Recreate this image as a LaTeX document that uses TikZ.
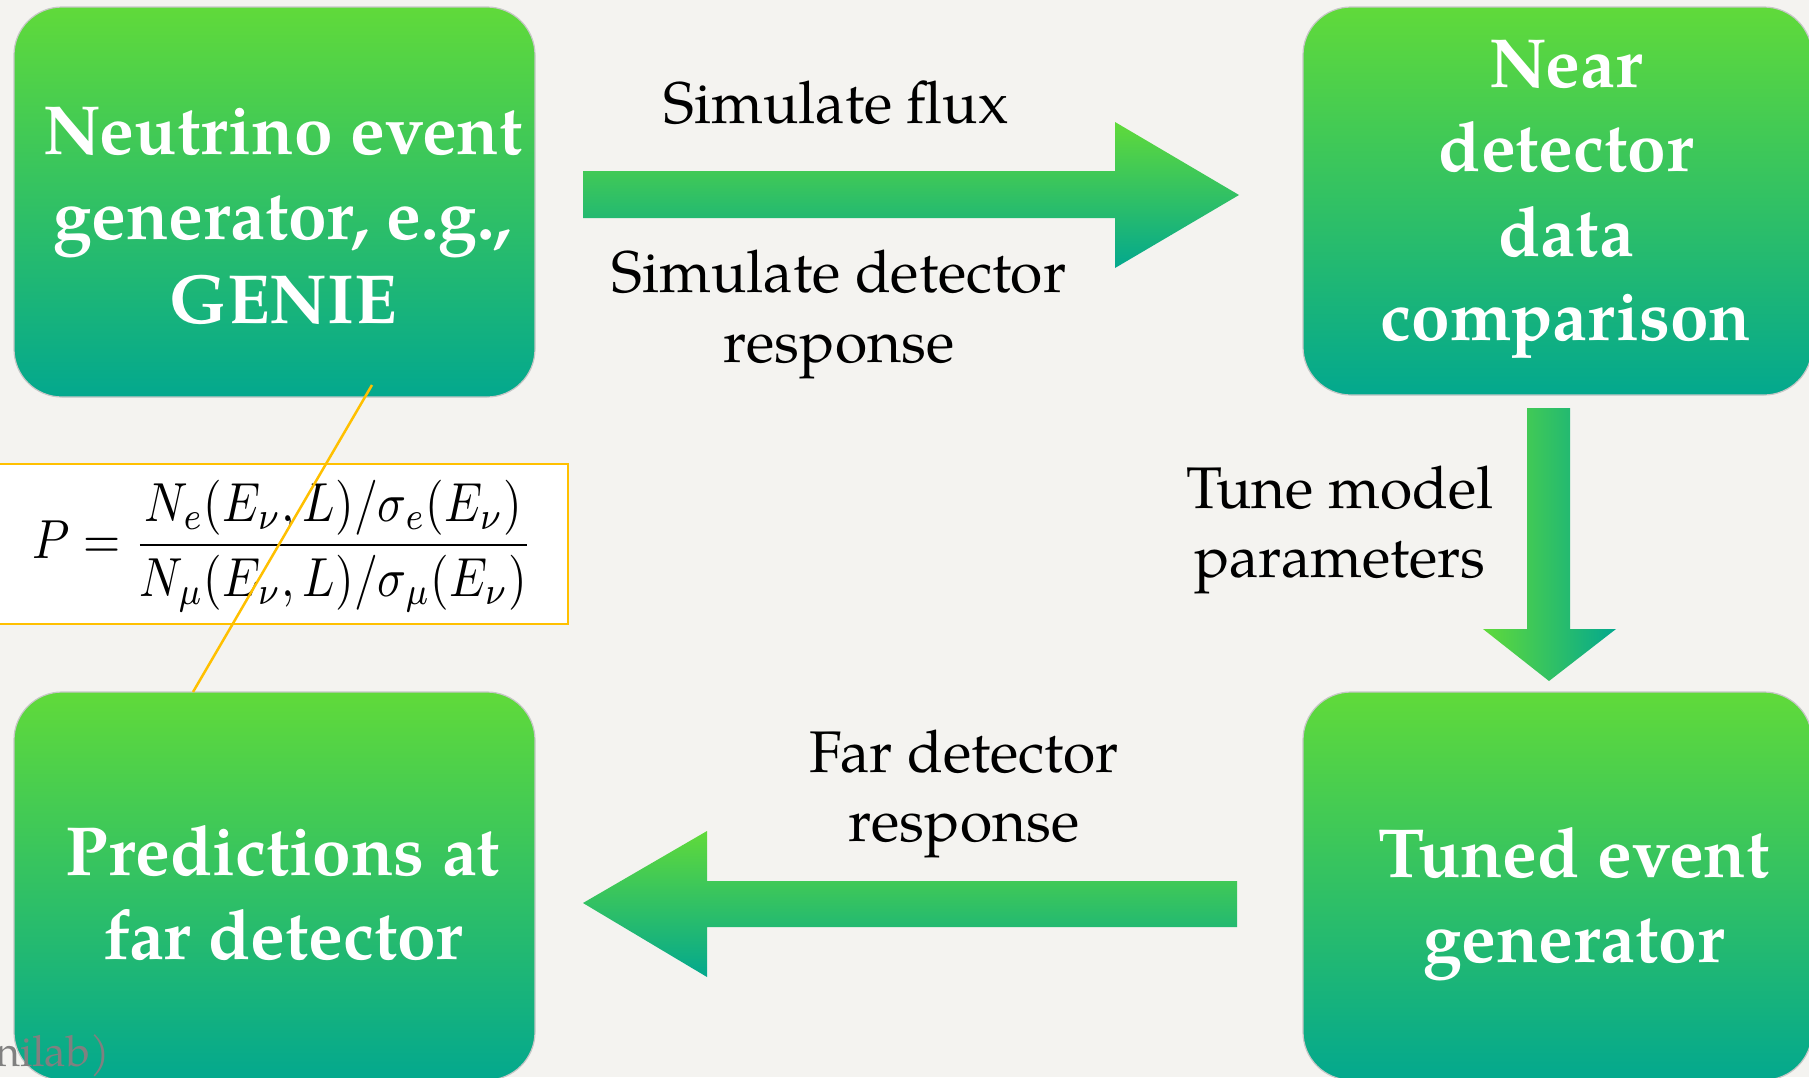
\documentclass[tikz,border=0pt]{standalone}
\usepackage{fontspec}
\setmainfont{texgyrepagella}[Extension=.otf, UprightFont=*-regular, BoldFont=*-bold, ItalicFont=*-italic, BoldItalicFont=*-bolditalic]
\usepackage{graphicx}
\definecolor{gtop}{RGB}{96,218,58}
\definecolor{gbot}{RGB}{3,168,142}
\definecolor{bgc}{RGB}{244,243,240}
\definecolor{eqorange}{RGB}{255,192,0}
\definecolor{credit}{RGB}{128,128,128}
\tikzset{
  gbox/.style={rectangle, rounded corners=48pt, top color=gtop, bottom color=gbot, draw=black!22, line width=1.2pt, inner sep=0pt},
  boxtext/.style={text=white, align=center, font=\fontsize{69.5}{84.5}\selectfont\bfseries, inner sep=0pt},
  lbl/.style={text=black, align=center, font=\fontsize{58.7}{69.5}\selectfont, inner sep=0pt},
  vgrad/.style={top color=gtop, bottom color=gbot, draw=none},
  hgrad/.style={left color=gtop, right color=gbot, draw=none},
}
\begin{document}
\begin{tikzpicture}[x=1pt,y=-1pt]
\useasboundingbox (0,0) rectangle (1809,1077);
\clip (0,0) rectangle (1809,1077);
\fill[bgc] (0,0) rectangle (1809,1077);

% boxes
\node[gbox, minimum width=521pt, minimum height=390pt] (gen) at (274.5,202) {};
\node[gbox, minimum width=509pt, minimum height=388pt] (near) at (1557.5,201) {};
\node[gbox, minimum width=521pt, minimum height=388pt] (pred) at (274.5,886) {};
\node[gbox, minimum width=509pt, minimum height=388pt] (tuned) at (1557.5,886) {};

% box texts
\node[boxtext] (gentext) at (283,216) {Neutrino event\\generator, e.g.,\\GENIE};
\node[boxtext] (neartext) at (1566,199.5) {Near\\detector\\data\\comparison};
\node[boxtext] (predtext) at (283,893) {Predictions at\\far detector};
\node[boxtext] (tunedtext) at (1574,904) {Tuned event\\generator};

% block arrows
\shade[vgrad] (583,171) -- (1115,171) -- (1115,122) -- (1239,195) -- (1115,268) -- (1115,218) -- (583,218) -- cycle;
\shade[hgrad] (1527,408) -- (1570,408) -- (1570,629) -- (1616,629) -- (1549,681) -- (1483,629) -- (1527,629) -- cycle;
\shade[vgrad] (1237,881) -- (707,881) -- (707,831) -- (583,903) -- (707,977) -- (707,927) -- (1237,927) -- cycle;

% labels
\node[lbl, anchor=base] (flux) at (836,123) {Simulate flux};
\node[lbl] (detresp) at (839,314.5) {Simulate detector\\response};
\node[lbl] (tune) at (1340,530) {Tune model\\parameters};
\node[lbl] (farresp) at (964,794) {Far detector\\response};

% equation box
\node[draw=eqorange, line width=2.5pt, fill=white, minimum width=572pt, minimum height=160pt, inner sep=0pt] (eqbox) at (282,544) {};
\node (eq) at (283,546) {\resizebox*{500pt}{132pt}{$\displaystyle P=\frac{N_e(E_\nu,L)/\sigma_e(E_\nu)}{N_\mu(E_\nu,L)/\sigma_\mu(E_\nu)}$}};

% orange connector
\coordinate (la) at (372,385);
\coordinate (lb) at (193,692);
\draw[eqorange, line width=2.5pt] (la) -- (lb);

% credit fragment (cut at the left edge, as in the reference)
\node[anchor=base east, text=credit, font=\fontsize{43}{50}\selectfont, inner sep=0pt] (credit) at (110,1066) {nilab)};
\end{tikzpicture}
\end{document}
